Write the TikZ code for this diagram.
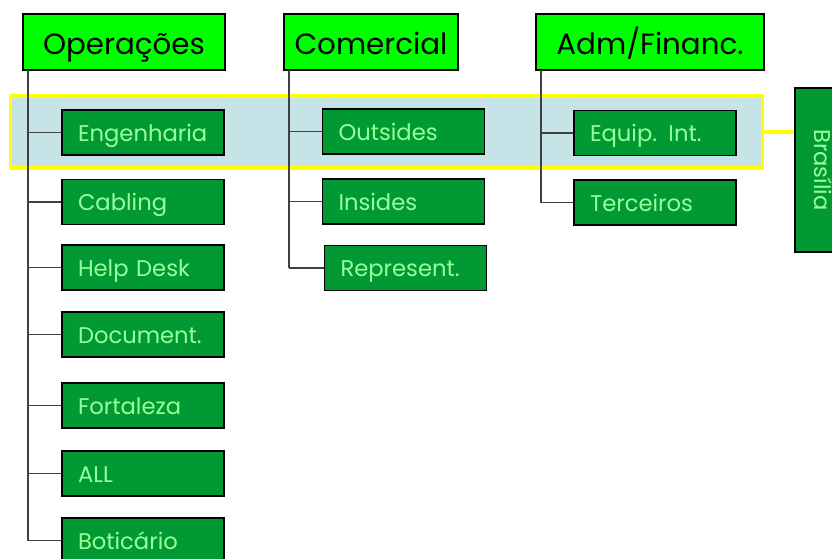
\documentclass[tikz,border=0pt]{standalone}
\usepackage{fontspec}
\setmainfont{Poppins}
\usepackage{xcolor}
\usetikzlibrary{positioning}
\definecolor{headgreen}{HTML}{00FF00}
\definecolor{unitgreen}{HTML}{009933}
\definecolor{unittext}{HTML}{99FF99}
\definecolor{bandblue}{HTML}{C6E4E8}
\definecolor{bandyellow}{HTML}{FFFF00}
\tikzset{%
	head/.style = {draw, rectangle, fill=headgreen, minimum height=42pt, text centered, text height=20pt, text depth=2pt, line width=0.9pt, font=\fontsize{22}{26}\selectfont},
	unit/.style = {draw, rectangle, fill=unitgreen, text=unittext, text width=97.5pt, inner xsep=12pt, minimum height=33.75pt, align=left, text height=14.8pt, text depth=2pt, line width=0.9pt, font=\fontsize{17}{20}\selectfont},
	band/.style = {draw=bandyellow, fill=bandblue, line width=2.5pt, minimum width=564pt, minimum height=54pt},
	tree/.style = {draw=black!75, line width=0.9pt},
}
\begin{document}
\begin{tikzpicture}[x=0.75pt,y=-0.75pt]
	\useasboundingbox (0,0) rectangle (832,558);
	\node[band] (bandbox) at (386.5,132) {};
	% heads
	\node[head, minimum width=151.5pt] (ope) at (124,42) {Operações};
	\node[head, minimum width=130.5pt] (com) at (371,42) {Comercial};
	\node[head, minimum width=171pt] (adm) at (650,42) {Adm/Financ.};
	% Operacoes
	\node[unit] (eng) at (143,132.5) {Engenharia};
	\node[unit] (cab) at (143,202) {Cabling};
	\node[unit] (hlp) at (143,267.5) {Help Desk};
	\node[unit] (doc) at (143,334.5) {Document.};
	\node[unit] (for) at (143,405.5) {Fortaleza};
	\node[unit] (all) at (143,473.5) {ALL};
	\node[unit] (bot) at (143,540.5) {Boticário};
	% Comercial
	\node[unit] (out) at (403.5,131.5) {Outsides};
	\node[unit] (ins) at (403.5,201.5) {Insides};
	\node[unit] (rep) at (405.5,268) {Represent.};
	% Adm/Financ.
	\node[unit] (equ) at (655,133) {Equip. Int.};
	\node[unit] (ter) at (655,202.5) {Terceiros};
	% Brasilia
	\node[unit, rotate=-90, text width=, text height=7pt, inner xsep=4pt, align=center, minimum width=123pt] (bra) at (817.5,170) {Brasília};
	\draw[draw=bandyellow, line width=2.5pt] (bandbox.east) -- (bandbox.east -| bra.south);
	% tree lines
	\coordinate (opeT) at (28,70);
	\coordinate (comT) at (289,70);
	\coordinate (admT) at (541,70);
	\draw[tree] (opeT) -- (opeT |- bot.west);
	\draw[tree] (comT) -- (comT |- rep.west);
	\draw[tree] (admT) -- (admT |- ter.west);
	\foreach \u in {eng,cab,hlp,doc,for,all,bot}
		\draw[tree] (opeT |- \u.west) -- (\u.west);
	\foreach \u in {out,ins,rep}
		\draw[tree] (comT |- \u.west) -- (\u.west);
	\foreach \u in {equ,ter}
		\draw[tree] (admT |- \u.west) -- (\u.west);
\end{tikzpicture}
\end{document}
